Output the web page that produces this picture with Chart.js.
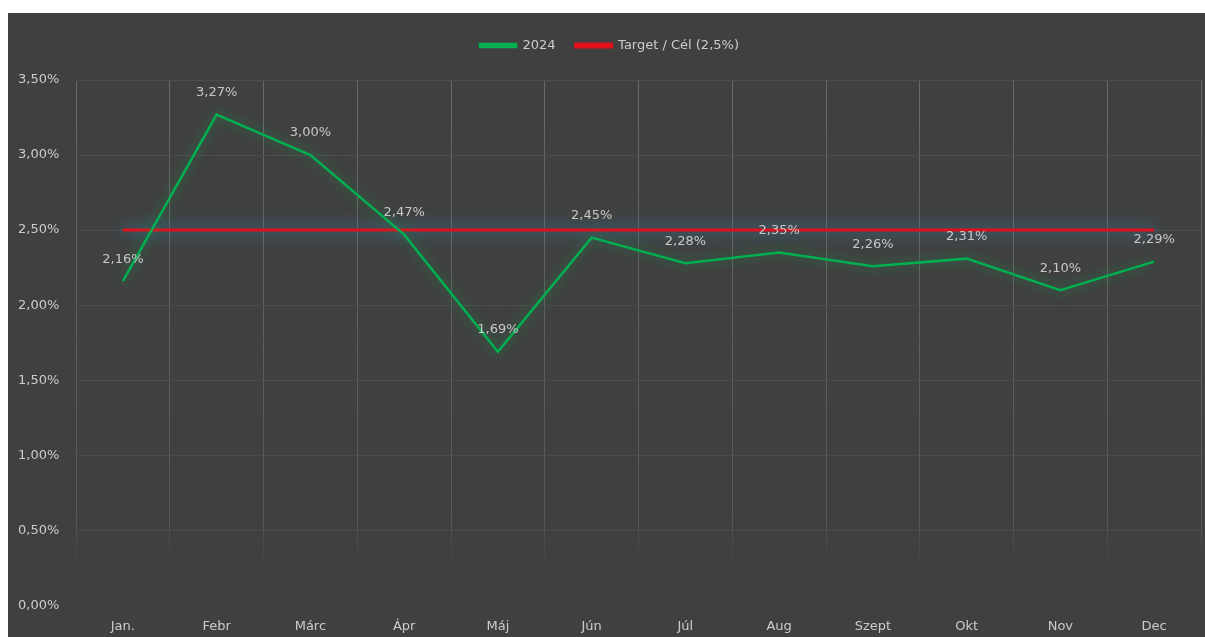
<!DOCTYPE html>
<html>
<head>
<meta charset="utf-8">
<script src="https://cdn.jsdelivr.net/npm/chart.js@4.4.1/dist/chart.umd.min.js"></script>
<style>
  html, body { margin: 0; padding: 0; background: #ffffff; }
  #wrap { position: absolute; left: 8px; top: 13px; width: 1197px; height: 624px; background: #404040; }
</style>
</head>
<body>
<div id="wrap"><canvas id="rateChart"></canvas></div>
<script>
// months (Hungarian short names, as in the source)
const months = ['Jan.', 'Febr', 'Márc', 'Ápr', 'Máj', 'Jún', 'Júl', 'Aug', 'Szept', 'Okt', 'Nov', 'Dec'];
// 2024 values in percent
const values2024 = [2.16, 3.27, 3.00, 2.47, 1.69, 2.45, 2.28, 2.35, 2.26, 2.31, 2.10, 2.29];
// target line
const targetValues = [2.5, 2.5, 2.5, 2.5, 2.5, 2.5, 2.5, 2.5, 2.5, 2.5, 2.5, 2.5];
const yTicks = [0, 0.5, 1, 1.5, 2, 2.5, 3, 3.5];

const FONT = '"DejaVu Sans", sans-serif';

function huPct(v) {
    return v.toFixed(2).replace('.', ',') + '%';
}

// glow behind each line
const glowPlugin = {
    id: 'glow',
    beforeInit(chart) {
        // extra room under the legend
        const origFit = chart.legend.fit;
        chart.legend.fit = function () {
            origFit.bind(chart.legend)();
            this.height += 18;
        };
    },
    beforeDatasetDraw(chart, args) {
        const c = chart.ctx;
        c.save();
        if (args.index === 0) {
            c.shadowColor = 'rgba(0, 190, 80, 0.6)';
            c.shadowBlur = 14;
        } else {
            c.shadowColor = 'rgba(50, 160, 215, 1)';
            c.shadowBlur = 16;
        }
    },
    afterDatasetDraw(chart) {
        chart.ctx.restore();
    }
};

// value labels above the 2024 points
const labelPlugin = {
    id: 'valueLabels',
    afterDatasetsDraw(chart) {
        const c = chart.ctx;
        const meta = chart.getDatasetMeta(0);
        c.save();
        c.font = '13px ' + FONT;
        c.fillStyle = '#c8c8c8';
        c.textAlign = 'center';
        c.textBaseline = 'middle';
        meta.data.forEach((pt, i) => {
            c.fillText(huPct(values2024[i]), pt.x, pt.y - 22);
        });
        c.restore();
    }
};

function gridFade(ctx) {
    const ca = ctx.chart.chartArea;
    if (!ca) return '#555555';
    const g = ctx.chart.ctx.createLinearGradient(0, ca.top, 0, ca.bottom);
    g.addColorStop(0, 'rgba(105,105,105,1)');
    g.addColorStop(0.84, 'rgba(92,92,92,0.85)');
    g.addColorStop(0.96, 'rgba(64,64,64,0)');
    return g;
}

let ctx = document.getElementById('rateChart').getContext('2d');
let rateChart = new Chart(ctx, {
    type: 'line',
    data: {
        labels: months,
        datasets: [{
            label: '2024',
            data: values2024,
            borderColor: '#00b050',
            backgroundColor: '#00b050',
            borderWidth: 2.5,
            pointRadius: 0,
            tension: 0
        }, {
            label: 'Target / Cél (2,5%)',
            data: targetValues,
            borderColor: '#e0101c',
            backgroundColor: '#e0101c',
            borderWidth: 3,
            pointRadius: 0,
            tension: 0
        }]
    },
    options: {
        responsive: true,
        maintainAspectRatio: false,
        animation: false,
        layout: { padding: { left: 10, right: 4, top: 6, bottom: -10 } },
        plugins: {
            legend: {
                position: 'top',
                labels: {
                    color: '#cccccc',
                    font: { family: FONT, size: 13 },
                    boxWidth: 36,
                    boxHeight: 3,
                    padding: 20
                }
            },
            tooltip: { enabled: false }
        },
        scales: {
            x: {
                offset: true,
                grid: { color: gridFade, offset: true, drawTicks: false },
                border: { display: false },
                ticks: {
                    color: '#cccccc',
                    font: { family: FONT, size: 13 },
                    padding: 13
                }
            },
            y: {
                min: 0,
                max: 3.5,
                afterBuildTicks(scale) {
                    scale.ticks = yTicks.map(v => ({ value: v }));
                },
                afterFit(scale) { scale.width = 58; },
                grid: {
                    color: c => (c.tick && c.tick.value === 0) ? 'rgba(0,0,0,0)' : '#4c4c4c',
                    drawTicks: false
                },
                border: { display: false },
                ticks: {
                    color: '#cccccc',
                    font: { family: FONT, size: 13 },
                    crossAlign: 'far',
                    padding: 12,
                    callback: v => huPct(v)
                }
            }
        }
    },
    plugins: [glowPlugin, labelPlugin]
});
</script>
</body>
</html>
